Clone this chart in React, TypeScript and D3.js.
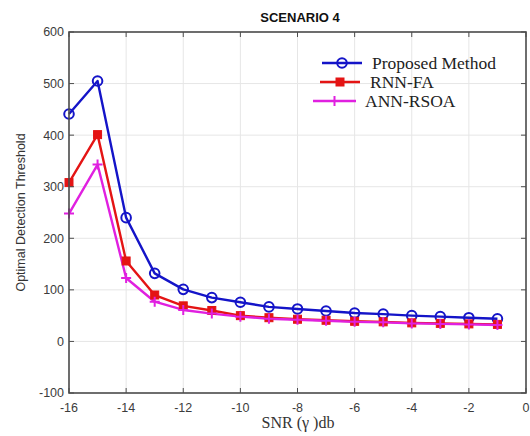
import React from 'react';
import * as d3 from 'd3';

// SNR values (dB)
const snr = [-16, -15, -14, -13, -12, -11, -10, -9, -8, -7, -6, -5, -4, -3, -2, -1];

// series
const proposed = [441, 505, 240, 132, 101, 85, 76, 67, 63, 59, 55, 53, 50, 48, 46, 44];
const rnnFa = [308, 401, 156, 90, 69, 60, 50, 46, 43, 41, 39, 38, 36, 35, 34, 33];
const annRsoa = [248, 343, 123, 77, 61, 54, 48, 44, 42, 40, 38, 37, 35, 34, 33, 32];

const xTicks = [-16, -14, -12, -10, -8, -6, -4, -2, 0];
const yTicks = [-100, 0, 100, 200, 300, 400, 500, 600];

const seriesNames = ['Proposed Method', 'RNN-FA', 'ANN-RSOA'];
const seriesColors = ['#1414c8', '#e41414', '#e020e0'];

const W = 530;
const H = 436;
const margin = { top: 32, right: 4, bottom: 43, left: 69 };

const Marker = ({ kind, x, y, color }: { kind: number; x: number; y: number; color: string }) => {
  if (kind === 0) {
    return <circle cx={x} cy={y} r={4.8} fill="none" stroke={color} strokeWidth={2} />;
  }
  if (kind === 1) {
    return <rect x={x - 4} y={y - 4} width={8} height={8} fill={color} stroke={color} strokeWidth={1} />;
  }
  return (
    <path d={`M${x - 5},${y}H${x + 5}M${x},${y - 5}V${y + 5}`} stroke={color} strokeWidth={2} />
  );
};

export default function App() {
  const innerW = W - margin.left - margin.right;
  const innerH = H - margin.top - margin.bottom;

  const x = d3.scaleLinear().domain([-16, 0]).range([margin.left, margin.left + innerW]);
  const y = d3.scaleLinear().domain([-100, 600]).range([margin.top + innerH, margin.top]);

  const line = d3.line<number>()
    .x((_, i) => x(snr[i]))
    .y(d => y(d));

  const allSeries = [proposed, rnnFa, annRsoa];
  const x0 = margin.left;
  const x1 = margin.left + innerW;
  const y0 = margin.top + innerH;
  const y1 = margin.top;

  // legend placement
  const legend = [
    { lx0: 322, lx1: 362, tx: 372, ty: 69 },
    { lx0: 320, lx1: 360, tx: 370, ty: 88 },
    { lx0: 313, lx1: 356, tx: 365, ty: 107 },
  ];

  return (
    <svg width={W} height={H} style={{ position: 'absolute', left: 0, top: 0, background: '#fff' }}>
      <rect x={0} y={0} width={W} height={H} fill="#fff" />

      {/* grid */}
      {xTicks.map(t => (
        <line key={'gx' + t} x1={x(t)} x2={x(t)} y1={y1} y2={y0} stroke="#e6e6e6" strokeWidth={1} />
      ))}
      {yTicks.map(t => (
        <line key={'gy' + t} x1={x0} x2={x1} y1={y(t)} y2={y(t)} stroke="#e6e6e6" strokeWidth={1} />
      ))}

      {/* series lines */}
      {allSeries.map((s, k) => (
        <path key={'l' + k} d={line(s) || ''} fill="none" stroke={seriesColors[k]} strokeWidth={2.4} strokeLinejoin="round" />
      ))}
      {allSeries.map((s, k) =>
        s.map((v, i) => <Marker key={'m' + k + '-' + i} kind={k} x={x(snr[i])} y={y(v)} color={seriesColors[k]} />)
      )}

      {/* axes box and ticks */}
      <rect x={x0} y={y1} width={innerW} height={innerH} fill="none" stroke="#4d4d4d" strokeWidth={1.6} />
      {xTicks.map(t => (
        <g key={'tx' + t}>
          <line x1={x(t)} x2={x(t)} y1={y0} y2={y0 - 5} stroke="#4d4d4d" />
          <line x1={x(t)} x2={x(t)} y1={y1} y2={y1 + 5} stroke="#4d4d4d" />
          <text x={x(t)} y={y0 + 19} textAnchor="middle" fontFamily="Liberation Sans, Arial, sans-serif" fontSize={12.5} fill="#3c3c3c">
            {t}
          </text>
        </g>
      ))}
      {yTicks.map(t => (
        <g key={'ty' + t}>
          <line x1={x0} x2={x0 + 5} y1={y(t)} y2={y(t)} stroke="#4d4d4d" />
          <line x1={x1} x2={x1 - 5} y1={y(t)} y2={y(t)} stroke="#4d4d4d" />
          <text x={x0 - 5} y={y(t)} dy="0.35em" textAnchor="end" fontFamily="Liberation Sans, Arial, sans-serif" fontSize={12.5} fill="#3c3c3c">
            {t}
          </text>
        </g>
      ))}

      {/* title */}
      <text x={300} y={22} textAnchor="middle" fontFamily="Liberation Sans, Arial, sans-serif" fontSize={13} fontWeight="bold" fill="#111">
        SCENARIO 4
      </text>

      {/* axis labels */}
      <text
        transform={`translate(25,${(y0 + y1) / 2}) rotate(-90)`}
        textAnchor="middle"
        fontFamily="Liberation Sans, Arial, sans-serif"
        fontSize={12.5}
        fill="#333"
      >
        Optimal Detection Threshold
      </text>
      <text x={298} y={428} textAnchor="middle" fontFamily="Liberation Serif, Times New Roman, serif" fontSize={16} fill="#333">
        SNR (γ )db
      </text>

      {/* legend */}
      {legend.map((l, k) => (
        <g key={'lg' + k}>
          <line x1={l.lx0} x2={l.lx1} y1={l.ty - 6} y2={l.ty - 6} stroke={seriesColors[k]} strokeWidth={2.4} />
          <Marker kind={k} x={(l.lx0 + l.lx1) / 2} y={l.ty - 6} color={seriesColors[k]} />
          <text x={l.tx} y={l.ty} fontFamily="Liberation Serif, Times New Roman, serif" fontSize={17.5} fill="#222">
            {seriesNames[k]}
          </text>
        </g>
      ))}
    </svg>
  );
}
